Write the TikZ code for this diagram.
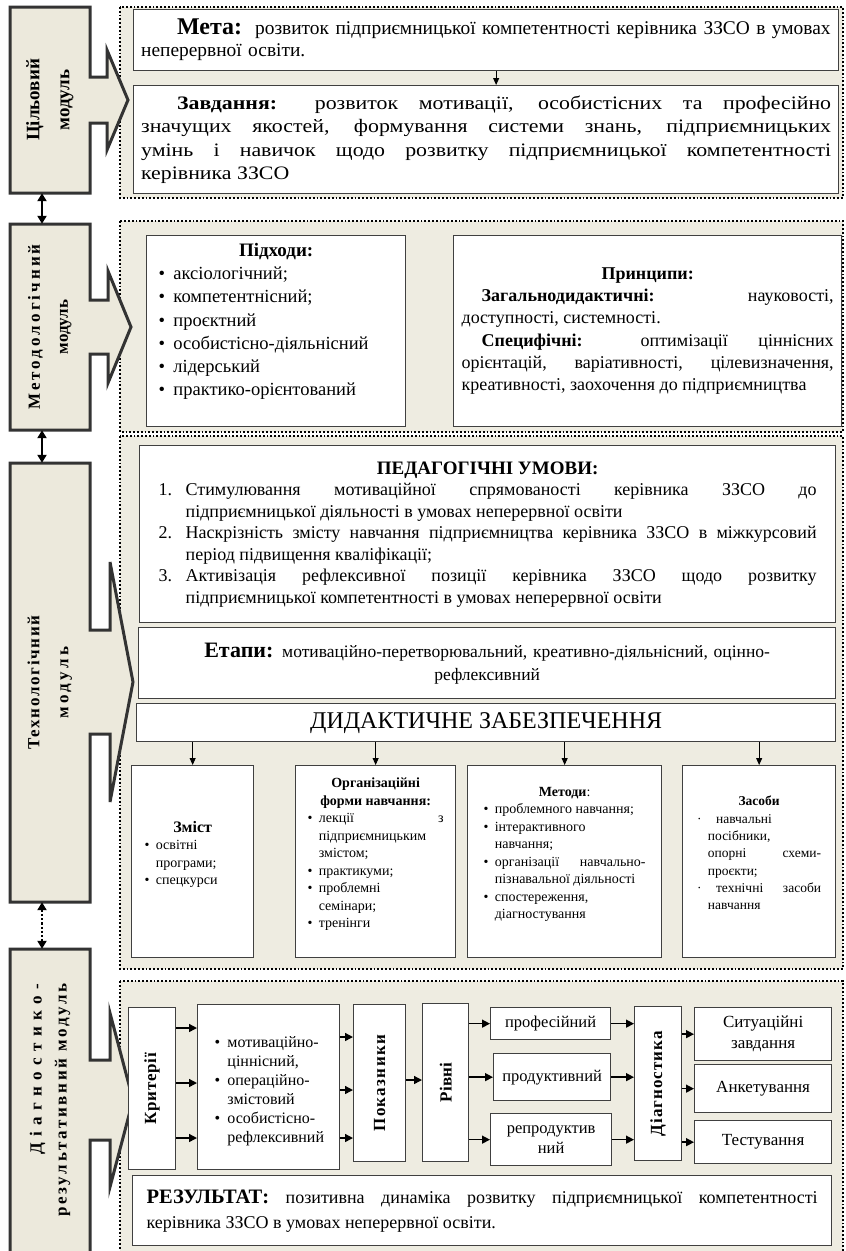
\documentclass[tikz,border=0pt]{standalone}
\usepackage{graphicx}
\usepackage{fontspec}
\setmainfont{Liberation Serif}
\newfontfamily\wideserif[FakeStretch=1.15]{Liberation Serif}
\usetikzlibrary{arrows.meta}

\definecolor{panelfill}{HTML}{EEECE1}
\definecolor{modulefill}{HTML}{ECE9DC}

\newcommand{\fs}[2]{\fontsize{#1}{#2}\selectfont}
\newcommand{\bul}{\par\hangindent=0.8em\hangafter=1\makebox[0.8em][l]{•}}
\newcommand{\dotbul}{\par\hangindent=0.8em\hangafter=1\makebox[1.4em][l]{·}}
\newcommand{\spaced}[2]{{\addfontfeature{LetterSpace=#1}#2}}
\newcommand{\lift}[1]{\par\rule{0pt}{#1}}
\hyphenpenalty=10000
\tolerance=10000

\begin{document}
\begin{tikzpicture}[x=1pt,y=-1pt,
        box/.style={draw=black!75, line width=1.3pt, fill=white, anchor=north west, inner sep=0pt,
            execute at begin node=\setlength{\parindent}{0pt}},
        panel/.style={draw=black, dotted, line width=1.8pt, fill=panelfill},
        module/.style={draw=black!80, line width=3pt, fill=modulefill},
        modlabel/.style={inner sep=0pt, font=\bfseries\fs{17}{20}},
        link/.style={-{Triangle[length=7pt,width=6pt]}, line width=0.9pt},
        biglink/.style={-{Triangle[length=8pt,width=8pt]}, line width=1.4pt},
        twoway/.style={{Triangle[length=8pt,width=9pt]}-{Triangle[length=8pt,width=9pt]}, line width=2.2pt},
    ]
            \useasboundingbox (0,0) rectangle (846,1251);

            \draw[panel] (120,7) rectangle (843,198);
            \draw[panel] (120,221) rectangle (843,432);
            \draw[panel] (120,436) rectangle (843,969);
            \draw[panel] (120,981) rectangle (843,1258);

            \draw[module] (10,7) -- (90,7) -- (90,77) -- (107,77) -- (107,50) -- (128,100)
                -- (107,150) -- (107,123) -- (90,123) -- (90,193) -- (10,193) -- cycle;
            \draw[module] (10,224) -- (90,224) -- (90,300) -- (108,300) -- (108,271) -- (131,327)
                -- (108,383) -- (108,354) -- (90,354) -- (90,430) -- (10,430) -- cycle;
            \draw[module] (10,463) -- (90,463) -- (90,630) -- (110,630) -- (110,562) -- (133,682)
                -- (110,802) -- (110,734) -- (90,734) -- (90,902) -- (10,902) -- cycle;
            \draw[module] (10,949) -- (90,949) -- (90,1060) -- (110,1060) -- (110,1013) -- (133,1100)
                -- (110,1187) -- (110,1140) -- (90,1140) -- (90,1262) -- (10,1262) -- cycle;

            \node[modlabel, minimum width=80, minimum height=186, font=\bfseries\fs{19}{22}] (m1) at (50,100)
                {\rotatebox{90}{\begin{tabular}{@{}c@{}}Цільовий\\[8pt]модуль\end{tabular}}};
            \node[modlabel, minimum width=80, minimum height=206] (m2) at (50,327)
                {\rotatebox{90}{\begin{tabular}{@{}c@{}}\spaced{18}{Методологічний}\\[8pt]модуль\end{tabular}}};
            \node[modlabel, minimum width=80, minimum height=439] (m3) at (50,682.5)
                {\rotatebox{90}{\begin{tabular}{@{}c@{}}\spaced{10}{Технологічний}\\[9pt]\spaced{20}{модуль}\end{tabular}}};
            \node[modlabel, minimum width=80, minimum height=302] (m4) at (50,1100)
                {\rotatebox{90}{\begin{tabular}{@{}r@{}}\spaced{38}{Діагностико-}\\[5pt]\spaced{16}{результативний модуль}\end{tabular}}};

            \draw[twoway] ([xshift=-8pt]m1.south) -- ([xshift=-8pt]m2.north);
            \draw[twoway] ([xshift=-8pt]m2.south) -- ([xshift=-8pt]m3.north);
            \draw[twoway, dotted] ([xshift=-8pt]m3.south) -- ([xshift=-8pt]m4.north);

            \node[box, minimum width=705, minimum height=61, text width=690, align=left, font=\fs{19.4}{22}] (goal) at (133,9)
                {\hspace*{36pt}{\bfseries\fs{24}{22}Мета:}\ \ розвиток підприємницької компетентності керівника ЗЗСО в умовах\\неперервної освіти.};
            \node[box, minimum width=705, minimum height=108, text width=690, align=justify, font=\wideserif\fs{19}{23.3}] (task) at (133,85)
                {\hspace*{36pt}\textbf{Завдання:} розвиток мотивації, особистісних та професійно\linebreak
                значущих якостей, формування системи знань, підприємницьких\linebreak
                умінь і навичок щодо розвитку підприємницької компетентності\linebreak
                керівника ЗЗСО};
            \draw[link] ([xshift=10pt]goal.south) -- ([xshift=10pt]task.north);

            \node[box, minimum width=259, minimum height=191, text width=235, align=left, font=\fs{18.5}{23.3}] (approach) at (146,235)
                {{\centering\bfseries\fs{19}{23.3}Підходи:\par}
                \bul аксіологічний;
                \bul компетентнісний;
                \bul проєктний
                \bul особистісно-діяльнісний
                \bul лідерський
                \bul практико-орієнтований\lift{8pt}};
            \node[box, minimum width=388, minimum height=191, text width=372, align=justify, font=\fs{18}{22.3}] (principle) at (453,235)
                {{\centering\bfseries Принципи:\par}
                \hspace*{20pt}\textbf{Загальнодидактичні:} науковості,\linebreak доступності, системності.\par
                \hspace*{20pt}\textbf{Специфічні:} оптимізації ціннісних\linebreak орієнтацій, варіативності, цілевизначення,\linebreak креативності, заохочення до підприємництва};

            \node[box, minimum width=696, minimum height=177, text width=658, align=justify, font=\fs{18}{21.5}] (condition) at (139,445)
                {{\centering\bfseries\fs{19}{24}ПЕДАГОГІЧНІ УМОВИ:\par}
                \hangindent=27pt\makebox[27pt][l]{1.}Стимулювання мотиваційної спрямованості керівника ЗЗСО до\linebreak
                підприємницької діяльності в умовах неперервної освіти\par
                \hangindent=27pt\makebox[27pt][l]{2.}Наскрізність змісту навчання підприємництва керівника ЗЗСО в міжкурсовий\linebreak
                період підвищення кваліфікації;\par
                \hangindent=27pt\makebox[27pt][l]{3.}Активізація рефлексивної позиції керівника ЗЗСО щодо розвитку\linebreak
                підприємницької компетентності в умовах неперервної освіти\par};
            \node[box, minimum width=697, minimum height=71, text width=680, align=center, font=\fs{17.5}{23}] (stage) at (138,627)
                {{\bfseries\fs{22}{23}Етапи:} мотиваційно-перетворювальний, креативно-діяльнісний, оцінно-\\рефлексивний};
            \node[box, minimum width=699, minimum height=38, font=\fs{24}{26}] (didactic) at (136,703)
                {ДИДАКТИЧНЕ ЗАБЕЗПЕЧЕННЯ};

            \node[box, minimum width=122, minimum height=192, text width=96, align=left, font=\fs{14}{17.5}] (content) at (131,765)
                {{\centering\bfseries\fs{16}{20}Зміст\par}
                \bul освітні\newline програми;
                \bul спецкурси\lift{14pt}};
            \node[box, minimum width=160, minimum height=192, text width=136, align=justify, font=\fs{14}{17.5}] (forms) at (295,765)
                {{\centering\bfseries Організаційні\\форми навчання:\par}
                \bul лекції з\linebreak підприємницьким змістом;
                \bul практикуми;
                \bul проблемні\newline семінари;
                \bul тренінги\lift{4pt}};
            \node[box, minimum width=194, minimum height=192, text width=162, align=justify, font=\fs{14}{17.5}] (methods) at (467,765)
                {{\centering\textbf{Методи}:\par}
                \bul проблемного навчання;
                \bul інтерактивного\newline навчання;
                \bul організації навчально-\linebreak пізнавальної діяльності
                \bul спостереження,\newline діагностування\lift{12pt}};
            \node[box, minimum width=153, minimum height=192, text width=124, align=justify, font=\fs{13.5}{17.3}] (means) at (682,765)
                {{\centering\bfseries Засоби\par}
                \dotbul навчальні\newline посібники,\newline опорні схеми-\linebreak проєкти;
                \dotbul технічні засоби\linebreak навчання\lift{14pt}};
            \foreach \n in {content,forms,methods,means}
                \draw[link] (didactic.south -| \n.north) -- (\n.north);

            \node[box, minimum width=47, minimum height=162, font=\bfseries\fs{17}{20}] (criterion) at (128,1007)
                {\rotatebox{90}{\spaced{4}{Критерії}}};
            \node[box, minimum width=142, minimum height=165, text width=108, align=left, font=\fs{16}{19}] (aspect) at (197,1004)
                {\bul мотиваційно-\newline ціннісний,
                \bul операційно-\newline змістовий
                \bul особистісно-\newline рефлексивний\par};
            \node[box, minimum width=52, minimum height=157, font=\bfseries\fs{17}{20}] (indicator) at (353,1004)
                {\rotatebox{90}{\spaced{8}{Показники}}};
            \node[box, minimum width=46, minimum height=158, font=\bfseries\fs{17}{20}] (level) at (422,1003)
                {\rotatebox{90}{Рівні}};
            \node[box, minimum width=120, minimum height=32, font=\fs{16.5}{20}] (prof) at (490,1007) {професійний};
            \node[box, minimum width=117, minimum height=47, font=\fs{16.5}{20}] (prod) at (493,1053) {продуктивний};
            \node[box, minimum width=121, minimum height=52, align=center, font=\fs{16.5}{20}] (repr) at (490,1113) {репродуктив\\ний};
            \node[box, minimum width=47, minimum height=154, font=\bfseries\fs{17}{20}] (diagnostic) at (634,1006)
                {\rotatebox{90}{\spaced{6}{Діагностика}}};
            \node[box, minimum width=137, minimum height=53, align=center, font=\fs{17}{21}] (case) at (694,1007) {Ситуаційні\\завдання};
            \node[box, minimum width=137, minimum height=48, font=\fs{17}{21}] (survey) at (694,1064) {Анкетування};
            \node[box, minimum width=137, minimum height=43, font=\fs{17}{21}] (testing) at (694,1120) {Тестування};
            \node[box, minimum width=699, minimum height=70, text width=671, align=justify, font=\fs{18}{25}] (result) at (132,1175)
                {{\bfseries\fs{20.5}{25}РЕЗУЛЬТАТ:} позитивна динаміка розвитку підприємницької компетентності\linebreak
                керівника ЗЗСО в умовах неперервної освіти.};

            \foreach \y in {1028,1083,1138}
                \draw[biglink] (criterion.east |- 0,\y) -- (aspect.west |- 0,\y);
            \foreach \y in {1037,1090,1138}
                \draw[biglink] (aspect.east |- 0,\y) -- (indicator.west |- 0,\y);
            \draw[biglink] (indicator.east |- 0,1080) -- (level.west |- 0,1080);
            \foreach \n in {prof,prod,repr} {
                \draw[biglink] (level.east |- \n.west) -- (\n.west);
                \draw[biglink] (\n.east) -- (diagnostic.west |- \n.east);
            }
            \foreach \n in {case,survey,testing}
                \draw[biglink] (diagnostic.east |- \n.west) -- (\n.west);
        \end{tikzpicture}
\end{document}
